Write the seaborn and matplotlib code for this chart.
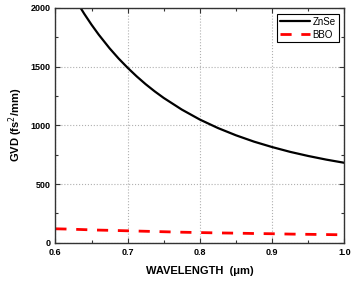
import pandas as pd
import seaborn as sns
import matplotlib.pyplot as plt
from matplotlib.ticker import MultipleLocator

# Values
wavelength = [0.600, 0.615, 0.630, 0.640, 0.650, 0.660, 0.675, 0.6875, 0.700,
              0.7125, 0.725, 0.7375, 0.750, 0.775, 0.800, 0.825, 0.850, 0.875,
              0.900, 0.925, 0.950, 0.975, 1.000]
gvd_znse = [2397, 2212, 2048, 1949, 1857, 1772, 1656, 1569, 1490,
            1417, 1350, 1289, 1233, 1134, 1049, 977, 915, 861,
            815, 774, 739, 708, 681]
gvd_bbo = [119, 117, 114, 112, 110, 108, 106, 104, 102,
           100, 98, 96, 94, 90, 87, 84, 82, 79,
           77, 74, 72, 70, 68]

sns.set_style('ticks')
plt.rcParams['font.family'] = ['Liberation Sans', 'DejaVu Sans']
plt.rcParams['text.color'] = 'black'
plt.rcParams['axes.labelcolor'] = 'black'
plt.rcParams['xtick.color'] = 'black'
plt.rcParams['ytick.color'] = 'black'

fig = plt.figure(figsize=(3.55, 2.81), dpi=100)
ax = fig.add_axes([0.156, 0.136, 0.814, 0.836])

sns.lineplot(x=wavelength, y=gvd_znse, ax=ax, color='black', lw=1.6, label='ZnSe')
sns.lineplot(x=wavelength, y=gvd_bbo, ax=ax, color='#ff0000', lw=2, label='BBO')
ax.lines[1].set_dashes((4, 3.5))

ax.set_xlim(0.6, 1.0)
ax.set_ylim(0, 2000)
ax.xaxis.set_minor_locator(MultipleLocator(0.05))
ax.yaxis.set_major_locator(MultipleLocator(500))
ax.yaxis.set_minor_locator(MultipleLocator(250))
ax.set_xticks([0.6, 0.7, 0.8, 0.9, 1.0])
ax.set_xticklabels(['0.6', '0.7', '0.8', '0.9', '1.0'])

ax.grid(True, which='major', color='#b0b0b0', linestyle=':', lw=0.8)
ax.tick_params(which='both', direction='in', top=True, right=True,
               labelsize=6.5, width=0.8, color='#333333')
ax.tick_params(which='major', length=3.5)
ax.tick_params(which='minor', length=2)
for lab in ax.get_xticklabels() + ax.get_yticklabels():
    lab.set_fontweight('bold')
for sp in ax.spines.values():
    sp.set_linewidth(1)
    sp.set_color('#333333')

ax.set_xlabel('WAVELENGTH  (\u03bcm)', fontsize=8, fontweight='bold', labelpad=7)
ax.set_ylabel('GVD (fs$^2$/mm)', fontsize=8, fontweight='bold', labelpad=4)

leg = ax.legend(loc='upper right', fontsize=7, frameon=True, fancybox=False,
                handlelength=3.0, borderpad=0.3, labelspacing=0.3,
                handletextpad=0.3, borderaxespad=0.6)
leg.get_frame().set_edgecolor('black')
leg.get_frame().set_linewidth(0.8)
leg.get_frame().set_alpha(1)

fig.savefig('out.png', dpi=100)
